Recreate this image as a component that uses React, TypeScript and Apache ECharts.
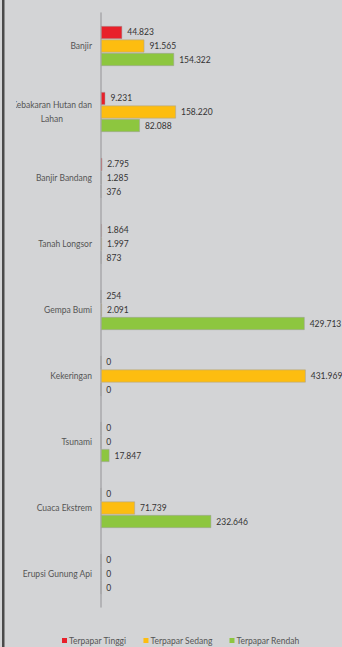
import React, { useEffect, useRef } from "react";
import * as echarts from "echarts";

const categories = [
  "Banjir",
  "Kebakaran Hutan dan Lahan",
  "Banjir Bandang",
  "Tanah Longsor",
  "Gempa Bumi",
  "Kekeringan",
  "Tsunami",
  "Cuaca Ekstrem",
  "Erupsi Gunung Api",
];
const seriesNames = ["Terpapar Tinggi", "Terpapar Sedang", "Terpapar Rendah"];
const tinggi = [44823, 9231, 2795, 1864, 254, 0, 0, 0, 0];
const sedang = [91565, 158220, 1285, 1997, 2091, 431969, 0, 71739, 0];
const rendah = [154322, 82088, 376, 873, 429713, 0, 17847, 232646, 0];
const colors = ["#e8202a", "#fdbd10", "#8dc63f"];

const BG = "#d3d4d6";
const FONT = "Lato, 'Liberation Sans', sans-serif";

const fmt = (v: number) => String(v).replace(/\B(?=(\d{3})+(?!\d))/g, ".");

export default function App() {
  const ref = useRef<HTMLDivElement>(null);
  useEffect(() => {
    if (!ref.current) return;
    const chart = echarts.init(ref.current, null, { renderer: "svg" });
    const data = [tinggi, sedang, rendah];
    chart.setOption({
      animation: false,
      backgroundColor: BG,
      textStyle: { fontFamily: FONT },
      grid: { left: 101, top: 13, width: 237, height: 594, containLabel: false },
      legend: {
        left: 57,
        top: 631,
        itemWidth: 5,
        itemHeight: 5,
        itemGap: 17,
        icon: "rect",
        itemStyle: { borderWidth: 0 },
        textStyle: { fontSize: 8.5, color: "#555", fontFamily: FONT, padding: [0, 0, 0, -3] },
        data: seriesNames,
      },
      xAxis: {
        type: "value",
        min: 0,
        max: 500000,
        show: false,
      },
      yAxis: {
        type: "category",
        data: categories,
        inverse: true,
        axisLine: { show: true, lineStyle: { color: "#a8a9ab", width: 1.5 } },
        axisTick: { show: false },
        axisLabel: {
          margin: 9,
          fontSize: 8.5,
          color: "#555",
          fontFamily: FONT,
          formatter: (v: string) =>
            v === "Kebakaran Hutan dan Lahan"
              ? "{a|Kebakaran Hutan dan}\n{b|Lahan}"
              : v,
          rich: {
            a: { fontSize: 8.5, color: "#555", fontFamily: FONT, lineHeight: 14 },
            b: { fontSize: 8.5, color: "#555", fontFamily: FONT, lineHeight: 14, padding: [0, 29, 0, 0] },
          },
        },
        splitLine: { show: false },
      },
      series: seriesNames.map((name, i) => ({
        name,
        type: "bar",
        data: data[i],
        barWidth: 13,
        barGap: "4%",
        itemStyle: { color: colors[i], borderColor: "rgba(160,160,160,0.7)", borderWidth: 0.7 },
        label: {
          show: true,
          position: "right",
          distance: 5,
          fontSize: 8.5,
          color: "#333",
          fontFamily: FONT,
          formatter: (p: any) => fmt(p.value),
        },
      })),
      graphic: [
        {
          type: "rect",
          z: 100,
          shape: { x: 4, y: 96, width: 12, height: 16 },
          style: { fill: BG },
        },
        {
          type: "rect",
          z: 101,
          shape: { x: 2, y: 0, width: 2.5, height: 647 },
          style: { fill: "#4a4a4a" },
        },
      ],
    });
    return () => chart.dispose();
  }, []);
  return (
    <div
      ref={ref}
      style={{ position: "fixed", left: 0, top: 0, width: 342, height: 647 }}
    />
  );
}
